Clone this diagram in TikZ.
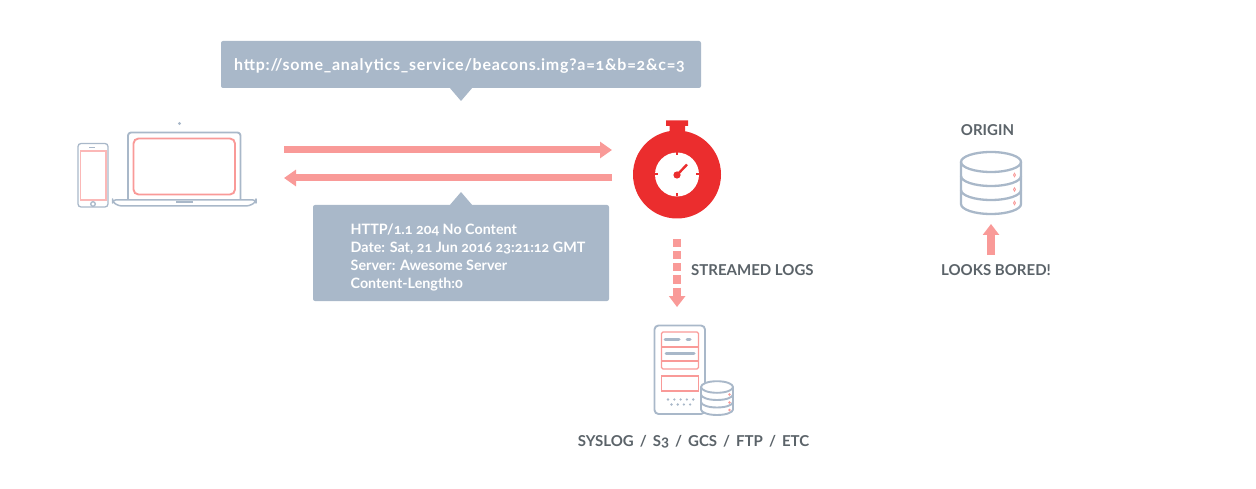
\documentclass[tikz,border=0pt]{standalone}
\usepackage{fontspec}
\setmainfont[Numbers=OldStyle,BoldFont={Lato Bold}]{Lato}
\newfontfamily\urlfont[Numbers=OldStyle,LetterSpace=4.7]{Lato Bold}
\newfontfamily\widefont[Numbers=OldStyle,WordSpace=1.65]{Lato Bold}
\usetikzlibrary{arrows.meta}
\definecolor{slate}{HTML}{A9B8C9}
\definecolor{salmon}{HTML}{F99A98}
\definecolor{alarm}{HTML}{EB2D2E}
\definecolor{ink}{HTML}{5B6369}
\tikzset{
  outline/.style={draw=slate,line width=1.9pt,line join=round},
  thinline/.style={draw=slate,line width=1.3pt},
  pinkline/.style={draw=salmon,line width=1.9pt},
  flow/.style={draw=salmon,line width=7pt,-{Triangle[length=12pt,width=16pt]}},
  stream/.style={draw=salmon,line width=7.7pt,dash pattern=on 8pt off 4pt},
  bubble/.style={fill=slate,rounded corners=2pt},
  caption/.style={text=ink,font=\bfseries\fontsize{15}{18}\selectfont,inner sep=0pt},
  bubbletext/.style={text=white,font=\bfseries\fontsize{14.3}{18}\selectfont,inner sep=0pt,align=left},
}
\begin{document}
\begin{tikzpicture}[x=1pt,y=-1pt]
\useasboundingbox (0,0) rectangle (1256,489);
% phone
\draw[thinline,rounded corners=3pt] (78,143.5) rectangle (108,207);
\draw[draw=salmon!70,line width=1.3pt] (80.5,151) rectangle (106,200);
\draw[thinline] (93,204) circle (2.3pt);
\draw[slate,line width=1pt] (89,147.3) -- (95,147.3);
% laptop
\draw[outline,rounded corners=3pt] (128,200) -- (128,132.5) -- (240.5,132.5) -- (240.5,200);
\draw[pinkline,rounded corners=5pt] (133.5,138.5) rectangle (235,194.5);
\draw[outline,rounded corners=3pt,line width=1.5pt] (112.5,200) -- (256,200) -- (256,202) -- (249,206) -- (119,206) -- (112.5,202) -- cycle;
\fill[slate] (176,201) rectangle (193,203.5);
\fill[slate] (179.5,123.5) circle (1.6pt);
% top callout
\fill[bubble] (221,41) rectangle (701,88);
\fill[slate] (449,87) -- (461,101) -- (473,87) -- cycle;
\node[bubbletext,anchor=west,font=\urlfont\fontsize{16}{18}\selectfont] (reqtext) at (234,65.5) {http://some\_analytics\_service/beacons.img?a=1\&b=2\&c=3};
% bottom callout
\fill[bubble] (313,205) rectangle (609,301);
\fill[slate] (449,206) -- (461,192) -- (473,206) -- cycle;
\node[bubbletext,anchor=north west] (resptext) at (350.5,223.5) {HTTP/1.1 204 No Content\\Date: Sat, 21 Jun 2016 23:21:12 GMT\\Server: Awesome Server\\Content-Length:0};
% timer
\fill[alarm] (666,120.5) rectangle (688,126) (669.5,126) rectangle (685,135);
\fill[alarm] (677,174.5) circle (44pt);
\fill[white] (677,174.5) circle (22pt);
\fill[alarm] (677,175) circle (3.6pt);
\draw[alarm,line width=2.4pt] (677,175) -- (687,164.5);
\draw[alarm,line width=2pt] (677,152.5) -- (677,155.5) (677,193.5) -- (677,196.5) (655,174.5) -- (658,174.5) (696,174.5) -- (699,174.5);
% arrows
\coordinate (reqfrom) at (284,150);
\coordinate (reqto) at (612,150);
\coordinate (respfrom) at (612,178);
\coordinate (respto) at (284,178);
\draw[flow] (reqfrom) -- (reqto);
\draw[flow] (respfrom) -- (respto);
\coordinate (logfrom) at (677,239.5);
\coordinate (logmid) at (677,296);
\coordinate (logto) at (677,307);
\draw[stream] (logfrom) -- (logmid);
\fill[salmon] (668.8,296) -- (685.5,296) -- (logto) -- cycle;
\node[caption,anchor=west] (logs) at (691,270) {STREAMED LOGS};
% server
\draw[outline,rounded corners=4pt] (654.5,325.5) rectangle (705,414);
\draw[pinkline,rounded corners=1.5pt,line width=1.4pt] (661.5,332) rectangle (698.5,369);
\draw[pinkline,line width=1.4pt] (661.5,347) -- (698.5,347) (661.5,361) -- (698.5,361);
\draw[pinkline,line width=1.4pt] (661.5,376) rectangle (698.5,391);
\draw[slate,line width=3pt,line cap=round] (665,339) -- (679,339) (687,339) -- (690,339) (666,353.5) -- (694,353.5);
\foreach \x in {668,674.3,680.6,686.9,693.2} \fill[slate] (\x,399.5) circle (1.3pt);
\foreach \x in {671.5,677.7,683.9,690.1} \fill[slate] (\x,404.5) circle (1.3pt);
% small db
\fill[white] (701,387) -- (701,409.5) arc[start angle=180,end angle=0,x radius=16,y radius=5.5] -- (733,387) -- cycle;
\draw[outline] (701,387) -- (701,409.5) arc[start angle=180,end angle=0,x radius=16,y radius=5.5] -- (733,387);
\draw[outline,fill=white] (717,387) ellipse (16pt and 5.8pt);
\draw[outline] (701,394.5) arc[start angle=180,end angle=0,x radius=16,y radius=5.5];
\draw[outline] (701,402) arc[start angle=180,end angle=0,x radius=16,y radius=5.5];
\foreach \y in {394.5,402.5,410} \draw[salmon,line width=.8pt] (729.5,\y) circle (.9pt);
\node[caption,font=\widefont\fontsize{15}{18}\selectfont] (sinks) at (693.5,442) {SYSLOG / S3 / GCS / FTP / ETC};
% origin db
\node[caption] (origin) at (987.5,130.5) {ORIGIN};
\draw[outline,line width=2.3pt] (961,162) -- (961,204) arc[start angle=180,end angle=0,x radius=30,y radius=10] -- (1021,162);
\draw[outline,line width=2.3pt] (991,162) ellipse (30pt and 10pt);
\draw[outline,line width=2.3pt] (961,176) arc[start angle=180,end angle=0,x radius=30,y radius=10];
\draw[outline,line width=2.3pt] (961,190) arc[start angle=180,end angle=0,x radius=30,y radius=10];
\foreach \y in {175,189.5,203} \draw[salmon,line width=.8pt] (1014.5,\y) ellipse (1pt and 1.8pt);
\coordinate (boredfrom) at (991,255);
\coordinate (boredto) at (991,224);
\draw[flow,line width=8pt,-{Triangle[length=11pt,width=16pt]}] (boredfrom) -- (boredto);
\node[caption] (bored) at (996,270) {LOOKS BORED!};
\end{tikzpicture}
\end{document}
